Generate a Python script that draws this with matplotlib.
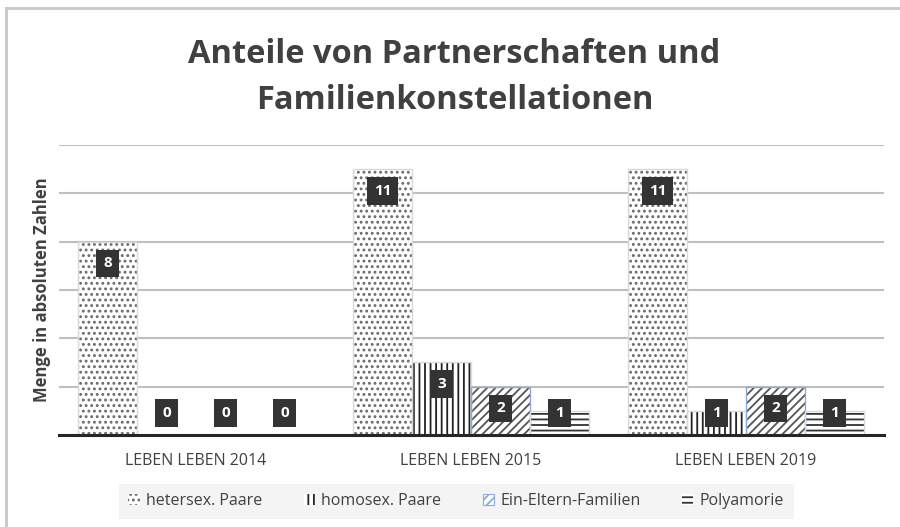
import numpy as np
import matplotlib.pyplot as plt
from matplotlib.patches import Patch
from matplotlib.lines import Line2D

# ----------------------------
# Data
# ----------------------------
years = ["LEBEN LEBEN 2014", "LEBEN LEBEN 2015", "LEBEN LEBEN 2019"]
series = ["hetersex. Paare", "homosex. Paare", "Ein-Eltern-Familien", "Polyamorie"]
heter = [8, 11, 11]
homo = [0, 3, 1]
ein_eltern = [0, 2, 2]
poly = [0, 1, 1]

values = [heter, homo, ein_eltern, poly]
hatches = ["...", "|||", "////", "---"]
hatch_cols = ["#6a6a6a", "#222222", "#555555", "#333333"]
edge_cols = ["#d9d9d9", "#d9d9d9", "#8eaadb", "#d9d9d9"]

plt.rcParams["font.family"] = ["Open Sans", "DejaVu Sans"]
plt.rcParams["hatch.linewidth"] = 1.3
text_col = "#404040"

fig = plt.figure(figsize=(9, 5.27), dpi=100)
ax = fig.add_axes([0.065, 0.1746, 0.9167, 0.5503])

x = np.arange(len(years))
w = 0.2145
for i, vals in enumerate(values):
    pos = x + (i - 1.5) * w
    ax.bar(pos, vals, w, color="white", edgecolor=hatch_cols[i],
           hatch=hatches[i], linewidth=0, zorder=2)
    ax.bar(pos, vals, w, fill=False, edgecolor=edge_cols[i],
           linewidth=1.0, zorder=3)
    for px, v in zip(pos, vals):
        ax.text(px, max(v - 0.9, 0.9), str(v), ha="center", va="center",
                color="white", fontsize=11, fontweight="bold", zorder=5,
                bbox=dict(boxstyle="square,pad=0.45", fc="#333333", ec="none"))

ax.set_ylim(0, 12)
ax.set_xlim(-0.5, 2.5)
ax.set_yticks(range(0, 13, 2))
ax.yaxis.grid(True, color="#bfbfbf", linewidth=1.5, zorder=0)
ax.set_yticklabels([])
ax.tick_params(axis="y", length=0)
ax.set_xticks(x)
ax.set_xticklabels(years, fontsize=11.5, color=text_col)
ax.tick_params(axis="x", length=0, pad=13)
for s in ["top", "right", "left"]:
    ax.spines[s].set_visible(False)
ax.spines["bottom"].set_color("#262626")
ax.spines["bottom"].set_linewidth(2.2)
ax.spines["bottom"].set_zorder(4)
ax.set_ylabel("Menge in absoluten Zahlen", fontsize=12, fontweight="bold",
              color=text_col, labelpad=2)

fig.text(0.505, 0.853, "Anteile von Partnerschaften und\nFamilienkonstellationen",
         ha="center", va="center", fontsize=23.5, fontweight="bold",
         color=text_col, linespacing=1.5)

handles = [Patch(facecolor="white", edgecolor=hatch_cols[i] if i != 2 else edge_cols[i],
                 hatch=hatches[i], linewidth=0 if i != 2 else 0.8)
           for i in range(4)]
leg = fig.legend(handles, series, loc="center", bbox_to_anchor=(0.507, 0.049),
                 ncol=4, fontsize=11.5, frameon=True, fancybox=False,
                 handlelength=0.7, handleheight=0.7, columnspacing=2.6,
                 handletextpad=0.4, borderpad=0.6, borderaxespad=0)
leg.get_frame().set_facecolor("#f2f2f2")
leg.get_frame().set_edgecolor("none")
for t in leg.get_texts():
    t.set_color(text_col)

# outer border of the chart (top and left)
fig.add_artist(Line2D([0.0067, 1.0], [1 - 8 / 527] * 2, color="#c8c8c8", lw=2))
fig.add_artist(Line2D([0.0067, 0.0067], [0, 1 - 8 / 527], color="#c8c8c8", lw=2))

fig.savefig("out.png", dpi=100)
